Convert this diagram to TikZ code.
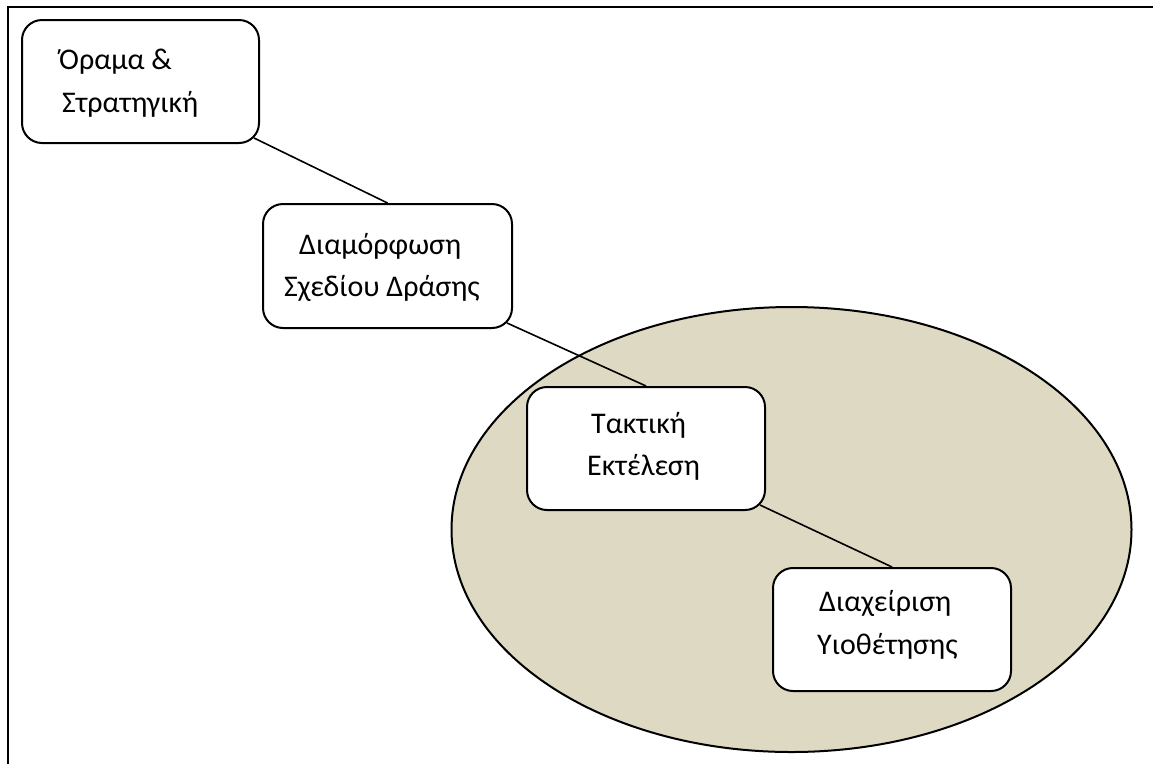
\documentclass[tikz,border=0pt]{standalone}
\usepackage{fontspec}
\setmainfont{Carlito}
\usetikzlibrary{calc,fit,shapes.geometric}
\definecolor{tan}{RGB}{221,217,195}
\begin{document}
\begin{tikzpicture}[x=1pt,y=-1pt,
  boxstyle/.style={draw=black,line width=2pt,fill=white,rounded corners=20pt,inner sep=0pt},
  txt/.style={anchor=base west,inner sep=0pt,font=\fontsize{30}{36}\selectfont},
  link/.style={draw=black,line width=1.6pt}]
\useasboundingbox (0,0) rectangle (1153,764);
% frame
\draw[line width=2.2pt] (8,764) -- (8,7) -- (1153,7);
% ellipse
\node (ell) [draw=black,line width=2pt,fill=tan,ellipse,minimum width=680pt,minimum height=445pt,inner sep=0pt] at (791.5,529.5) {};
% boxes (positions)
\coordinate (b1nw) at (22,20);   \coordinate (b1se) at (259,143);
\coordinate (b2nw) at (263,204); \coordinate (b2se) at (512,328);
\coordinate (b3nw) at (527,387); \coordinate (b3se) at (765,510);
\coordinate (b4nw) at (773,568); \coordinate (b4se) at (1011,691);
\node (b1) [boxstyle,fit=(b1nw)(b1se)] {};
\node (b2) [boxstyle,fit=(b2nw)(b2se)] {};
\node (b3) [boxstyle,fit=(b3nw)(b3se)] {};
\node (b4) [boxstyle,fit=(b4nw)(b4se)] {};
% connectors
\coordinate (c1) at ($(b1.south east)+(-6,-6)$);
\coordinate (c2) at ($(b2.south east)+(-6,-6)$);
\coordinate (c3) at ($(b3.south east)+(-6,-6)$);
\draw[link] (c1) -- (b2.north);
\draw[link] (c2) -- (b3.north);
\draw[link] (c3) -- (b4.north);
% texts
\node (t1a) [txt] at (59,69) {Όραμα \&};
\node (t1b) [txt] at (62,112) {Στρατηγική};
\node (t2a) [txt] at (299,254) {Διαμόρφωση};
\node (t2b) [txt] at (284,296) {Σχεδίου Δράσης};
\node (t3a) [txt] at (591,433) {Τακτική};
\node (t3b) [txt] at (587,475) {Εκτέλεση};
\node (t4a) [txt] at (819,611) {Διαχείριση};
\node (t4b) [txt] at (817,654) {Υιοθέτησης};
\end{tikzpicture}
\end{document}
